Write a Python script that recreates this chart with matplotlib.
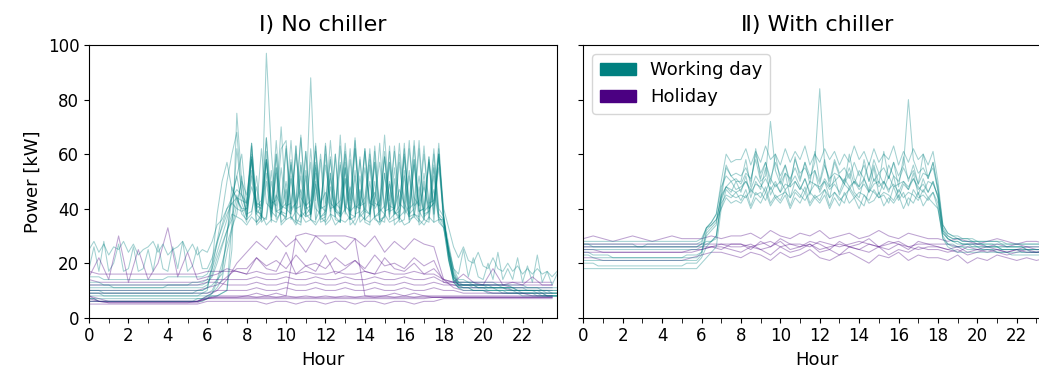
import numpy as np
import matplotlib
matplotlib.use("Agg")
import matplotlib.pyplot as plt
from matplotlib.patches import Patch

# time axes (hours): quarter-hour for working days, half-hour for holidays
hours_q = np.arange(0, 24, 0.25)
hours_h = np.arange(0, 24, 0.5)

# ---- I) No chiller : working days, 15-min values ----
noch_work = [
    [9,9,9,8, 8,8,8,8, 8,8,8,8, 8,8,8,8, 8,8,8,8, 8,8,8,9,
     9,10,14,20, 27,33,38,52,
     37,58,38,36, 61,39,37,55, 40,38,63,37, 39,57,36,40, 60,38,37,56, 39,36,62,38, 40,58,37,39, 61,36,38,57, 40,37,63,39, 36,59,38,60,
     36,24,15,12, 12,12,11,11, 11,11,11,10, 10,10,10,10, 9,9,9,9, 9,8,8,8],
    [12,12,12,12, 12,11,11,11, 11,11,11,11, 11,11,11,11, 12,12,12,12, 12,12,12,12,
     13,15,20,26, 32,36,45,38,
     36,38,52,35, 37,54,36,39, 50,37,35,56, 38,36,53,37, 39,51,36,35, 55,38,37,52, 36,38,57,35, 37,50,39,36, 54,37,38,52, 36,35,56,37,
     34,26,17,13, 13,13,12,12, 12,12,12,12, 11,11,11,11, 11,10,10,10, 10,10,9,9],
    [7,7,6,6, 6,6,6,6, 6,6,6,6, 6,6,6,6, 6,6,6,6, 6,6,7,7,
     7,8,8,9, 10,35,62,45,
     42,64,41,40, 66,43,41,62, 65,40,42,67, 41,43,63,40, 41,65,42,40, 64,43,66,41, 42,62,40,43, 67,41,40,64, 42,65,41,43, 63,40,42,64,
     38,22,13,11, 11,11,10,10, 10,10,10,10, 9,9,9,9, 9,9,9,8, 8,8,8,8],
    [15,15,15,14, 14,14,14,14, 14,14,14,14, 14,14,14,14, 15,15,15,15, 15,15,15,15,
     16,20,27,34, 40,44,47,45,
     38,39,48,37, 36,50,39,38, 47,36,39,52, 37,38,49,36, 37,48,39,38, 51,36,37,47, 39,38,50,36, 37,49,38,39, 52,36,37,48, 38,39,47,36,
     36,25,18,14, 14,13,13,13, 13,13,13,12, 12,12,12,12, 12,11,11,11, 11,11,11,11],
    [10,10,10,9, 9,9,9,9, 9,9,9,9, 9,9,9,9, 9,9,9,9, 9,9,10,10,
     11,12,14,16, 30,48,43,40,
     35,59,34,36, 58,35,60,34, 36,57,35,34, 61,36,35,58, 34,36,60,35, 57,34,36,59, 35,34,61,36, 35,57,34,36, 60,35,58,34, 36,59,35,60,
     33,21,14,12, 11,11,11,11, 11,10,10,10, 10,10,10,9, 9,9,9,9, 9,8,8,8],
    [18,26,17,28, 17,20,27,17, 18,26,17,18, 25,17,27,18, 17,26,18,28, 17,19,26,18,
     18,22,28,33, 38,42,40,39,
     40,48,42,41, 58,39,45,41, 40,56,42,47, 38,40,55,42, 46,40,41,57, 39,48,41,40, 55,42,46,39, 41,57,40,47, 42,38,56,41, 48,40,42,55,
     37,27,18,16, 25,15,22,15, 14,20,14,24, 14,18,14,22, 13,19,13,23, 13,17,12,16],
    [8,8,8,8, 8,8,8,8, 8,8,8,8, 8,8,8,8, 8,8,8,8, 8,8,8,8,
     8,8,8,9, 10,25,75,50,
     45,58,40,42, 66,38,55,40, 42,65,39,57, 41,38,64,40, 56,43,39,67, 38,58,40,42, 62,39,44,57, 40,63,38,41, 59,42,65,39, 40,58,41,62,
     36,22,14,12, 12,12,12,11, 11,11,11,11, 11,10,10,10, 10,10,10,9, 9,9,9,9],
    [11,11,11,11, 11,11,11,11, 11,11,11,11, 11,11,11,11, 11,11,11,11, 11,11,11,11,
     12,16,22,27, 32,38,37,36,
     34,37,35,38, 34,36,35,39, 36,37,34,38, 35,36,34,37, 35,38,34,36, 35,37,34,38, 36,35,37,34, 38,35,36,37, 34,35,38,36, 34,37,35,36,
     33,24,16,12, 12,12,12,11, 11,11,11,11, 11,11,10,10, 10,10,10,10, 10,10,10,10],
    [6,6,6,6, 6,6,6,6, 6,6,6,6, 6,6,6,6, 6,6,6,6, 6,6,6,6,
     7,9,13,18, 30,44,52,60,
     41,64,39,62, 42,40,65,41, 63,39,42,66, 40,41,61,39, 64,42,40,63, 41,39,65,40, 62,42,41,64, 39,40,63,41, 62,40,42,65, 39,41,62,40,
     37,23,14,11, 10,10,10,10, 10,9,9,9, 9,9,9,9, 8,8,8,8, 8,8,8,8],
    [13,13,13,12, 12,12,12,12, 12,12,12,12, 12,12,12,12, 12,12,12,12, 12,13,13,13,
     14,18,24,30, 36,44,52,42,
     37,54,39,38, 53,37,55,38, 37,52,39,37, 54,38,56,37, 38,53,39,37, 55,38,54,37, 39,56,37,38, 53,38,55,37, 39,54,38,37, 53,38,55,37,
     35,25,16,13, 13,13,13,12, 12,12,12,12, 12,12,11,11, 11,11,11,11, 10,10,10,10],
    [9,9,9,9, 9,9,9,9, 9,9,9,9, 9,9,9,9, 9,9,9,9, 9,9,9,9,
     10,20,38,50, 57,47,44,40,
     40,59,38,41, 57,40,60,39, 38,58,40,41, 61,38,57,41, 39,59,40,38, 60,39,41,58, 40,38,57,41, 59,39,40,60, 38,41,58,39, 40,57,38,60,
     36,24,15,12, 12,12,12,12, 12,11,11,11, 11,11,11,10, 10,10,10,10, 10,9,9,9],
    [25,28,24,27, 23,26,25,28, 24,27,23,25, 26,28,24,27, 23,25,26,28, 24,27,23,25,
     24,28,34,36, 40,42,44,43,
     42,60,41,43, 58,42,43,70, 41,42,60,44, 41,88,43,60, 42,58,41,43, 61,42,62,41, 44,60,42,41, 59,43,61,42, 40,62,44,41, 60,42,43,59,
     40,33,26,22, 26,21,20,24, 19,18,22,18, 17,20,17,19, 16,18,16,18, 16,17,15,17],
    [7,7,7,7, 7,7,7,7, 7,7,7,7, 7,7,7,7, 7,7,7,7, 7,7,7,7,
     8,9,11,14, 24,32,42,50,
     36,52,35,37, 50,36,53,35, 37,51,36,35, 52,37,50,35, 36,53,37,35, 51,36,52,35, 37,50,36,35, 53,37,51,35, 36,52,37,35, 50,36,52,35,
     33,21,13,11, 11,11,10,10, 10,10,10,10, 10,9,9,9, 9,9,9,9, 8,8,8,8],
    [10,10,10,10, 10,10,10,10, 10,10,10,10, 10,10,10,10, 10,10,10,10, 10,10,10,10,
     11,18,28,38, 50,60,68,45,
     39,63,40,37, 97,61,39,40, 62,38,63,39, 37,62,40,38, 63,39,60,37, 40,62,38,39, 61,37,63,40, 38,61,39,37, 64,38,40,62, 37,39,60,38,
     36,24,15,13, 12,12,12,12, 12,12,11,11, 11,11,11,10, 10,10,10,10, 9,9,9,9],
]

# ---- I) No chiller : holidays, 30-min values ----
noch_hol = [
    [8,7,6,6,6,6,6,6,6,6,6,6, 7,7.5,7.5,7.5, 7.5,7.5,7.5,7.5,7.5,7.5,7.5,7.5,7.5,7.5,7.5,7.5,7.5,7.5,7.5,7.5,7.5,7.5,7.5,7.5, 7.5,7.5,7.5,7.5,7.5,7.5,7.5,7.5,7.5,7.5,7.5,7.5],
    [6,6,5.5,5.5,5.5,5.5,5.5,5.5,5.5,5.5,5.5,5.5, 7,7,7,7, 7,7,7,7,7,7,7,7,7,7,7,7,7,7,7,7,7,7,7,7.5, 7.5,7.5,7.5,7.5,7.5,7.5,7.5,7.5,7.5,7.5,7.5,7.5],
    [12,12,12,12,12,12,12,12,12,12,12,12, 13,13,12,12, 12,13,12,12,13,12,12,13,12,12,13,12,12,13,12,12,13,12,12,13, 12,12,12,12,12,12,12,11,11,11,11,11],
    [17,16,16,16,16,16,16,16,16,16,16,16, 17,17,17,17, 16,17,16,16,17,16,17,16,16,17,16,16,17,16,17,16,16,17,16,16, 14,13,13,13,13,13,13,13,13,13,13,13],
    [7,6,6,6,6,6,6,6,6,6,6,6, 8,10,14,20, 24,28,25,30,26,29,24,30,27,28,25,29,26,30,24,28,25,29,27,26, 14,11,10,10,10,9,9,9,9,8,8,8],
    [10,10,10,10,10,10,10,10,10,10,10,10, 11,12,15,18, 18,22,19,21,18,23,19,20,18,22,19,21,18,23,19,20,18,22,19,21, 13,12,11,11,11,11,11,10,10,10,10,10],
    [6,6,6,6,6,6,6,6,6,6,6,6, 7,8,8,8, 8,9,8,9,8,30,31,30,30,30,30,29,8,8,8,9,8,9,8,8, 8,8,8,8,8,8,8,8,8,8,8,8],
    [9,9,9,9,9,9,9,9,9,9,9,9, 9,10,10,10, 10,11,10,10,11,10,10,11,10,10,11,10,10,11,10,10,11,10,10,11, 10,10,9,9,9,9,9,9,9,9,9,9],
    [14,13,13,13,13,13,13,13,13,13,13,13, 14,14,14,14, 14,15,14,14,15,14,14,15,14,14,15,14,14,15,14,14,15,14,14,15, 13,13,12,12,12,12,12,12,12,12,12,12],
    [5,5,5,5,5,5,5,5,5,5,5,5, 6,6,6,6, 6,6,5,6,6,5,6,6,5,6,6,5,6,6,5,6,6,5,6,6, 7,7,7,7,7,7,7,7,7,7,7,7],
    [15,22,14,30,13,25,14,20,33,15,24,14, 15,16,18,17, 16,22,18,17,24,16,19,17,23,16,18,21,17,16,22,18,17,20,16,18, 14,13,16,13,12,18,12,13,12,15,12,12],
    [8,6,5.5,5.5,5.5,5.5,5.5,5.5,5.5,5.5,5.5,6, 7.5,7.5,7.5,7.5, 8,7.5,8,7.5,8,7.5,8,7.5,8,7.5,8,7.5,8,7.5,8,7.5,8,7.5,8,7.5, 7.5,7.5,7.5,7.5,7.5,7.5,7.5,7.5,7.5,7.5,7.5,7.5],
]

# ---- II) With chiller : working days, 15-min values ----
ch_work = [
    [27,27,27,27, 27,27,27,27, 27,27,27,26, 26,27,27,27, 27,27,27,27, 27,27,27,27,
     28,33,34,36, 44,48,50,47,
     48,50,47,52, 49,46,51,48, 50,47,49,52, 48,46,50,49, 47,51,48,50, 52,49,47,50, 48,51,46,49, 50,47,52,48, 49,50,47,51, 48,46,50,49,
     45,32,30,29, 29,28,28,28, 27,27,27,27, 26,26,26,26, 26,26,25,25, 25,25,25,25],
    [24,24,23,23, 23,23,22,22, 22,22,22,22, 22,22,22,22, 22,22,22,22, 22,23,23,23,
     24,31,33,35, 45,48,46,50,
     46,52,44,50, 47,55,45,49, 46,53,44,50, 47,51,45,54, 46,50,44,52, 45,49,53,46, 44,51,47,55, 45,50,46,52, 44,49,47,53, 45,51,46,50,
     44,31,29,28, 28,27,27,27, 26,26,26,26, 26,25,25,25, 25,25,25,24, 24,24,24,24],
    [20,20,20,19, 19,19,19,19, 19,19,19,19, 19,19,19,19, 19,19,19,19, 19,20,20,20,
     22,26,28,30, 42,45,44,46,
     43,47,41,46, 44,48,42,45, 43,47,41,46, 44,48,42,45, 43,47,41,46, 44,42,48,45, 43,41,47,46, 44,45,42,48, 43,46,41,47, 44,45,43,46,
     40,30,27,26, 26,26,25,25, 25,25,25,25, 24,24,24,24, 24,24,24,24, 24,24,24,24],
    [26,26,26,26, 26,26,26,26, 26,26,26,26, 26,26,26,26, 26,26,26,26, 26,26,26,26,
     27,28,28,29, 44,55,52,50,
     50,58,48,62, 51,57,49,60, 50,56,48,59, 51,57,49,61, 50,58,48,57, 52,49,60,51, 48,58,50,56, 49,61,51,57, 48,59,50,56, 49,60,51,57,
     48,33,30,29, 29,28,28,28, 28,27,27,27, 27,27,26,26, 26,26,26,26, 26,26,26,26],
    [23,23,22,22, 22,22,22,22, 22,22,22,22, 22,22,22,22, 22,22,22,22, 22,22,22,22,
     24,32,34,36, 40,47,45,44,
     45,44,47,45, 46,43,48,44, 45,46,44,47, 45,43,46,44, 45,47,44,46, 43,45,47,44, 46,45,43,47, 44,46,45,43, 47,44,46,45, 43,47,44,46,
     42,29,27,27, 26,26,26,26, 26,25,25,25, 25,25,25,25, 25,24,24,24, 24,24,24,24],
    [28,28,28,28, 28,28,28,28, 28,28,28,28, 28,28,28,28, 28,28,28,28, 28,28,28,28,
     29,33,35,38, 48,52,50,51,
     49,53,51,58, 50,52,72,54, 49,53,51,55, 50,57,52,54, 49,56,51,53, 52,50,55,49, 54,51,57,50, 53,49,56,52, 50,55,51,54, 49,53,52,55,
     47,34,31,30, 30,29,29,29, 28,28,28,28, 28,28,27,27, 27,27,27,27, 27,27,27,27],
    [21,21,21,21, 21,21,21,21, 21,21,21,21, 21,21,21,21, 21,21,21,21, 21,21,21,21,
     23,30,32,34, 46,56,52,53,
     52,55,50,60, 53,57,51,57, 52,56,50,58, 53,55,51,57, 84,56,50,58, 53,55,51,57, 52,56,50,58, 53,55,51,57, 52,56,80,58, 53,55,51,57,
     46,32,29,28, 27,27,27,26, 26,26,26,26, 26,25,25,25, 25,25,25,25, 25,25,25,25],
    [25,25,25,25, 25,25,25,25, 25,25,25,25, 25,25,25,25, 25,25,25,25, 25,25,25,25,
     26,27,28,30, 43,48,47,46,
     47,50,46,49, 48,51,47,50, 46,49,48,50, 47,51,46,49, 48,50,47,49, 46,51,48,50, 47,49,46,51, 48,50,47,49, 46,50,48,51, 47,49,46,50,
     44,31,29,28, 28,27,27,27, 27,27,26,26, 26,26,26,26, 26,26,25,25, 25,25,25,25],
    [27,27,26,26, 26,26,26,26, 26,26,26,26, 26,26,26,26, 26,26,26,26, 26,26,26,26,
     27,33,35,38, 50,60,57,58,
     58,62,56,61, 57,63,58,60, 56,62,57,61, 58,63,56,60, 57,62,58,61, 56,60,57,63, 58,61,56,62, 57,60,58,63, 56,61,57,62, 58,60,56,61,
     50,34,31,30, 29,29,29,28, 28,28,28,28, 28,27,27,27, 27,27,27,27, 27,27,27,27],
    [18,18,18,18, 18,18,18,18, 18,18,18,18, 18,18,18,18, 18,18,18,18, 18,18,18,18,
     20,22,24,26, 40,44,42,43,
     42,45,40,44, 42,46,41,44, 42,45,40,44, 42,46,41,44, 42,45,40,44, 41,46,42,44, 40,45,42,43, 46,41,44,42, 45,40,44,42, 46,41,44,42,
     40,29,26,25, 24,24,24,24, 24,24,24,24, 24,24,24,23, 23,23,23,23, 23,23,23,23],
]

# ---- II) With chiller : holidays, 30-min values ----
ch_hol = [
    [27,27,27,27,27,27,27,27,27,27,27,27, 27,27,27,27, 27,26,27,28,26,27,27,26,28,27,26,27,28,27,26,27,28,26,27,27, 27,27,26,27,27,26,27,26,27,26,26,26],
    [25,25,24,24,24,24,24,24,24,24,24,25, 25,26,26,25, 24,26,25,23,26,24,25,27,24,25,23,26,25,24,26,23,25,24,26,25, 25,24,25,23,24,25,24,23,24,25,24,24],
    [29,30,29,28,29,30,29,28,29,30,29,29, 29,30,29,30, 30,31,29,32,30,29,31,30,32,29,30,31,29,30,32,30,29,31,30,29, 29,28,29,28,27,28,29,28,27,28,28,27],
    [22,22,21,21,21,21,21,21,21,21,21,22, 23,24,24,23, 22,24,23,21,24,22,23,25,22,21,23,24,22,20,23,22,24,21,23,22, 22,21,23,20,22,21,23,22,21,22,21,22],
    [26,26,26,26,26,26,26,26,26,26,26,26, 26,26,27,26, 26,27,25,26,28,25,26,27,25,26,27,26,25,27,26,25,27,26,25,26, 26,25,26,24,25,26,25,24,25,26,25,25],
    [24,24,24,24,24,24,24,24,24,24,24,24, 25,26,25,27, 27,25,28,26,29,27,26,28,27,25,28,26,27,29,26,28,27,25,28,27, 26,25,24,26,25,24,25,24,25,24,24,25],
]

titles = ["\u2160) No chiller", "\u2161) With chiller"]
labels = ["Working day", "Holiday"]
c_work = "teal"
c_hol = "indigo"

plt.rcParams["font.family"] = ["DejaVu Sans"]
plt.rcParams["font.size"] = 12
fig = plt.figure(figsize=(10.39, 3.74), dpi=100)
ax1 = fig.add_axes([0.0857, 0.1505, 0.4504, 0.729])
ax2 = fig.add_axes([0.5614, 0.1505, 0.4504, 0.729], sharey=ax1)

for ax, work, hol, title in [(ax1, noch_work, noch_hol, titles[0]),
                             (ax2, ch_work, ch_hol, titles[1])]:
    n = max(len(work), len(hol))
    for i in range(n):
        if i < len(work):
            ax.plot(hours_q, work[i], color=c_work, alpha=0.36, lw=0.75)
        if i < len(hol):
            ax.plot(hours_h, hol[i], color=c_hol, alpha=0.36, lw=0.75)
    ax.set_xlim(0, 23.75)
    ax.set_ylim(0, 100)
    ax.set_xticks(np.arange(0, 24, 2))
    ax.set_xticks(np.arange(0, 24, 1), minor=True)
    ax.tick_params(which="minor", length=3.5)
    ax.set_xlabel("Hour", fontsize=13)
    ax.set_title(title, fontsize=16, pad=10)

ax1.set_ylabel("Power [kW]", fontsize=13)
ax1.set_yticks([0, 20, 40, 60, 80, 100])
ax2.tick_params(labelleft=False)

handles = [Patch(color=c_work), Patch(color=c_hol)]
ax2.legend(handles, labels, loc="upper left", fontsize=13)

fig.savefig("out.png", dpi=100)
